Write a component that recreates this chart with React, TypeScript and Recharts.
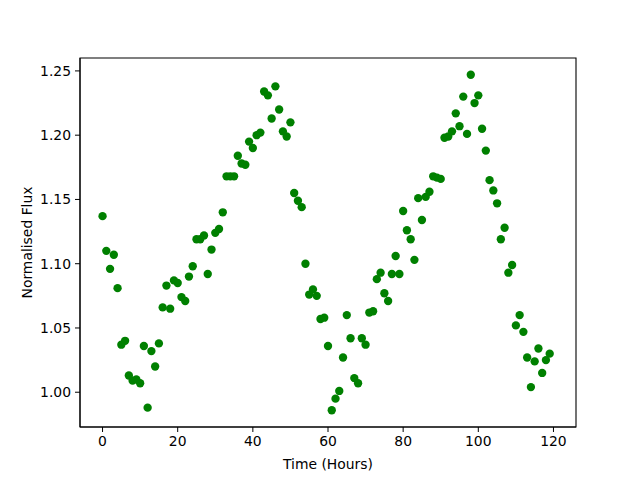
import {
  ScatterChart,
  Scatter,
  XAxis,
  YAxis,
  ReferenceArea,
} from "recharts";

const hours = [
  0, 1, 2, 3, 4, 5, 6, 7, 8, 9, 10, 11, 12, 13, 14, 15, 16, 17, 18, 19,
  20, 21, 22, 23, 24, 25, 26, 27, 28, 29, 30, 31, 32, 33, 34, 35, 36, 37, 38, 39,
  40, 41, 42, 43, 44, 45, 46, 47, 48, 49, 50, 51, 52, 53, 54, 55, 56, 57, 58, 59,
  60, 61, 62, 63, 64, 65, 66, 67, 68, 69, 70, 71, 72, 73, 74, 75, 76, 77, 78, 79,
  80, 81, 82, 83, 84, 85, 86, 87, 88, 89, 90, 91, 92, 93, 94, 95, 96, 97, 98, 99,
  100, 101, 102, 103, 104, 105, 106, 107, 108, 109, 110, 111, 112, 113, 114, 115, 116, 117, 118, 119,
];

const flux = [
  1.137, 1.110, 1.096, 1.107, 1.081, 1.037, 1.040, 1.013, 1.009, 1.010,
  1.007, 1.036, 0.988, 1.032, 1.020, 1.038, 1.066, 1.083, 1.065, 1.087,
  1.085, 1.074, 1.071, 1.090, 1.098, 1.119, 1.119, 1.122, 1.092, 1.111,
  1.124, 1.127, 1.140, 1.168, 1.168, 1.168, 1.184, 1.178, 1.177, 1.195,
  1.190, 1.200, 1.202, 1.234, 1.231, 1.213, 1.238, 1.220, 1.203, 1.199,
  1.210, 1.155, 1.149, 1.144, 1.100, 1.076, 1.080, 1.075, 1.057, 1.058,
  1.036, 0.986, 0.995, 1.001, 1.027, 1.060, 1.042, 1.011, 1.007, 1.042,
  1.037, 1.062, 1.063, 1.088, 1.093, 1.077, 1.071, 1.092, 1.106, 1.092,
  1.141, 1.126, 1.119, 1.103, 1.151, 1.134, 1.152, 1.156, 1.168, 1.167,
  1.166, 1.198, 1.199, 1.203, 1.217, 1.207, 1.230, 1.201, 1.247, 1.225,
  1.231, 1.205, 1.188, 1.165, 1.157, 1.147, 1.119, 1.128, 1.093, 1.099,
  1.052, 1.060, 1.047, 1.027, 1.004, 1.024, 1.034, 1.015, 1.025, 1.030,
];

const xTicks = [0, 20, 40, 60, 80, 100, 120];
const yTicks = [1.0, 1.05, 1.1, 1.15, 1.2, 1.25];

const xDomain: [number, number] = [-6, 126];
const yDomain: [number, number] = [0.97295, 1.26005];

const data = hours.map((h, i) => ({ hour: h, flux: flux[i] }));

const font = { fontFamily: "DejaVu Sans", fontSize: 13.9, fill: "#000" };

const Dot = (props: any) => (
  <circle cx={props.cx} cy={props.cy} r={4.17} fill="#008000" />
);

export default function App() {
  return (
    <div style={{ position: "absolute", left: 0, top: 0, background: "#fff" }}>
      <ScatterChart
        width={640}
        height={480}
        margin={{ top: 58, right: 64, bottom: 0, left: 0 }}
      >
        <XAxis
          type="number"
          dataKey="hour"
          domain={xDomain}
          ticks={xTicks}
          allowDataOverflow
          height={53}
          tickSize={5}
          tickMargin={4}
          stroke="#000"
          tick={font}
          label={{ value: "Time (Hours)", position: "insideBottom", offset: 11, style: font }}
        />
        <YAxis
          type="number"
          dataKey="flux"
          domain={yDomain}
          ticks={yTicks}
          allowDataOverflow
          width={80}
          tickSize={5}
          tickMargin={4}
          stroke="#000"
          tick={font}
          tickFormatter={(v: number) => v.toFixed(2)}
          label={{
            value: "Normalised Flux",
            angle: -90,
            position: "insideLeft",
            offset: 27,
            style: { ...font, textAnchor: "middle" },
          }}
        />
        <ReferenceArea
          x1={xDomain[0]}
          x2={xDomain[1]}
          y1={yDomain[0]}
          y2={yDomain[1]}
          fill="none"
          stroke="#000"
          strokeWidth={1.1}
          fillOpacity={0}
        />
        <Scatter data={data} shape={Dot} isAnimationActive={false} />
      </ScatterChart>
    </div>
  );
}
